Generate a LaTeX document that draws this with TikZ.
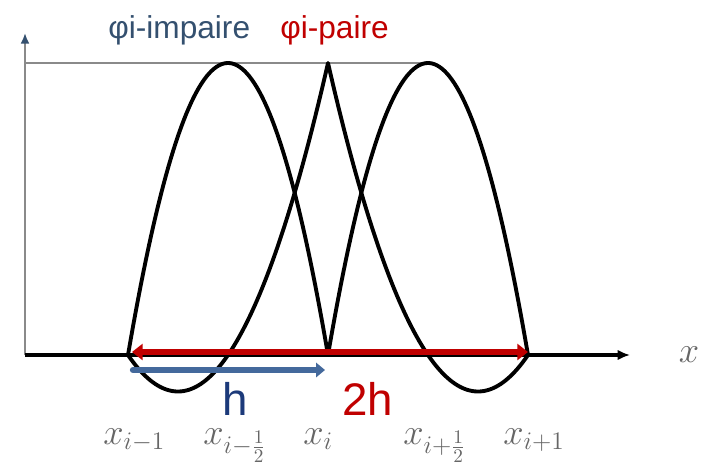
\documentclass[tikz,border=0pt]{standalone}
\usepackage{fontspec}
\setmainfont{Liberation Sans}
\usepackage{xcolor}
\usetikzlibrary{arrows.meta, calc}
\definecolor{rouge}{HTML}{C00000}
\definecolor{bleu}{HTML}{44699C}
\definecolor{marine}{HTML}{1C3A7A}
\definecolor{ardoise}{HTML}{34506F}
\definecolor{gris}{HTML}{8A8A8A}
\definecolor{texte}{HTML}{666666}

\begin{document}
\begin{tikzpicture}[x=2cm, y=2cm, >=Latex,
  courbe/.style={line width=2.2pt, line join=round},
  axe/.style={draw=gris, line width=1.1pt},
  abscisse/.style={text=texte, anchor=base west, inner sep=0pt, font=\fontsize{22}{26}\selectfont},
  titre/.style={anchor=base west, inner sep=0pt, font=\fontsize{18}{22}\selectfont},
  pas/.style={anchor=base west, inner sep=0pt, font=\fontsize{26}{30}\selectfont}]
  \useasboundingbox (-1.28,-1.08) rectangle (5.81,3.55);
  \coordinate (O) at (-1.03,0);
  \coordinate (yhaut) at (-1.03,3.22);
  \coordinate (ymax) at (-1.03,2.92);
  \coordinate (sommet) at (3,2.92);
  \coordinate (xfin) at (5.02,0);
  \coordinate (xm1) at (0,0);
  \coordinate (xmd) at (1,0);
  \coordinate (xi) at (2,0);
  \coordinate (xpd) at (3,0);
  \coordinate (xp1) at (4,0);

  \draw[axe, -{Latex[length=6pt, width=5pt, color=ardoise]}] (O) -- (yhaut);
  \draw[axe] (ymax) -- (sommet);
  \draw[line width=2pt, -{Latex[length=7pt, width=6pt]}] (O) -- (xfin);
  \node[text=texte, font=\fontsize{22}{26}\selectfont] (labx) at (5.61,0) {$x$};

  \draw[courbe] plot[domain=0:2, samples=80] (\x, {2.92*\x*(2-\x)});
  \draw[courbe] plot[domain=2:4, samples=80] (\x, {2.92*(\x-2)*(4-\x)});
  \draw[courbe] plot[domain=0:2, samples=80] (\x, {1.46*\x*(\x-1)})
    -- plot[domain=2:4, samples=80] (\x, {1.46*(4-\x)*(3-\x)});

  \draw[bleu, line width=3.6pt, line cap=round, -{Triangle[length=5pt, width=8pt]}]
    ($(xm1)+(0.05,-0.15)$) -- ($(xi)+(-0.03,-0.15)$);
  \draw[rouge, line width=3.8pt, {Triangle[length=6pt, width=9pt]}-{Triangle[length=6pt, width=9pt]}]
    ($(xm1)+(0.04,0.03)$) -- ($(xp1)+(0,0.03)$);

  \node[titre, text=ardoise] (phimp) at (-0.20,3.16) {φi-impaire};
  \node[titre, text=rouge] (phpair) at (1.52,3.16) {φi-paire};
  \node[pas, text=marine] (h) at (0.94,-0.60) {h};
  \node[pas, text=rouge] (deuxh) at (2.14,-0.60) {2h};

  \node[abscisse] (lxm1) at ($(xm1)+(-0.25,-0.89)$) {$x_{i-1}$};
  \node[abscisse] (lxmd) at ($(xmd)+(-0.25,-0.89)$) {$x_{i-\frac{1}{2}}$};
  \node[abscisse] (lxi) at ($(xi)+(-0.25,-0.89)$) {$x_{i}$};
  \node[abscisse] (lxpd) at ($(xpd)+(-0.25,-0.89)$) {$x_{i+\frac{1}{2}}$};
  \node[abscisse] (lxp1) at ($(xp1)+(-0.25,-0.89)$) {$x_{i+1}$};
\end{tikzpicture}
\end{document}
